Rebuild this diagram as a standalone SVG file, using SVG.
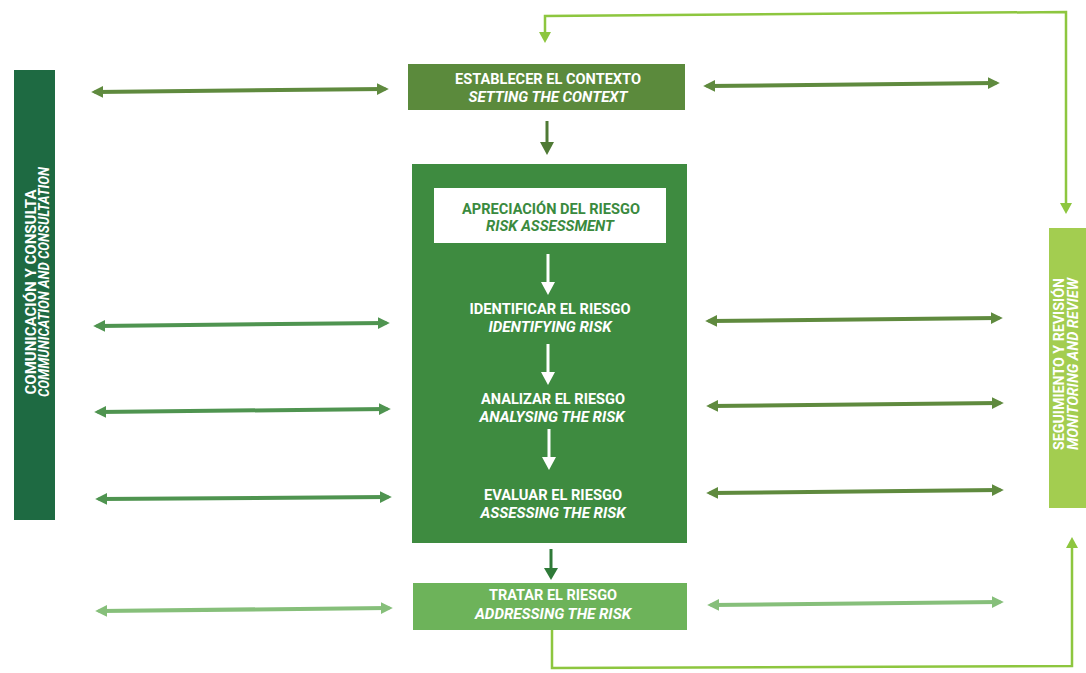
<svg xmlns="http://www.w3.org/2000/svg" width="1086" height="673" viewBox="0 0 1086 673">
<defs>
<marker id="hOlive" viewBox="0 0 10 10" refX="6" refY="5" markerWidth="3" markerHeight="3" orient="auto-start-reverse"><path d="M0,0 L10,5 L0,10 Z" fill="#5f8a3e"/></marker>
<marker id="hGreen" viewBox="0 0 10 10" refX="6" refY="5" markerWidth="3" markerHeight="3" orient="auto-start-reverse"><path d="M0,0 L10,5 L0,10 Z" fill="#4f9450"/></marker>
<marker id="hLight" viewBox="0 0 10 10" refX="6" refY="5" markerWidth="3" markerHeight="3" orient="auto-start-reverse"><path d="M0,0 L10,5 L0,10 Z" fill="#86bf7a"/></marker>
</defs>
<style>
.t{font-family:"Roboto","Liberation Sans",sans-serif;font-weight:bold;font-size:14px;fill:#ffffff;text-anchor:middle;}
.i{font-style:italic;}
.g{fill:#3a8a3e;}
.dbl{fill:none;stroke-width:4;stroke-linecap:round;}
.olive{stroke:#5f8a3e;}
.green{stroke:#4f9450;}
.light{stroke:#86bf7a;}
.lime{fill:none;stroke:#8dc63f;stroke-width:2.5;}
.down{fill:none;stroke-width:3;}
</style>
<rect width="1086" height="673" fill="#ffffff"/>

<g id="comunicacion">
<rect x="14" y="70" width="41" height="450" fill="#1e6a42"/>
<text class="t" font-size="11" transform="translate(35.5,292) rotate(-90)" textLength="205" lengthAdjust="spacingAndGlyphs">COMUNICACIÓN Y CONSULTA</text>
<text class="t i" font-size="11" transform="translate(48.5,282) rotate(-90)" textLength="230" lengthAdjust="spacingAndGlyphs">COMMUNICATION AND CONSULTATION</text>
</g>

<g id="seguimiento">
<rect x="1049" y="228" width="37" height="280" fill="#a3cd50"/>
<text class="t" font-size="11" transform="translate(1064,364) rotate(-90)" textLength="172" lengthAdjust="spacingAndGlyphs">SEGUIMIENTO Y REVISIÓN</text>
<text class="t i" font-size="11" transform="translate(1078,364) rotate(-90)" textLength="172" lengthAdjust="spacingAndGlyphs">MONITORING AND REVIEW</text>
</g>

<g id="contexto">
<rect x="408" y="64" width="277" height="46" fill="#5b8a3c"/>
<text class="t" x="548" y="84" textLength="186" lengthAdjust="spacingAndGlyphs">ESTABLECER EL CONTEXTO</text>
<text class="t i" x="548" y="102" textLength="159" lengthAdjust="spacingAndGlyphs">SETTING THE CONTEXT</text>
</g>

<g id="apreciacion">
<rect x="412" y="164" width="275" height="379" fill="#3e8b40"/>
<rect x="434" y="188" width="232" height="55" fill="#ffffff"/>
<text class="t g" x="551" y="214" textLength="178" lengthAdjust="spacingAndGlyphs">APRECIACIÓN DEL RIESGO</text>
<text class="t g i" x="550" y="231" textLength="128" lengthAdjust="spacingAndGlyphs">RISK ASSESSMENT</text>
</g>

<g id="identificar">
<text class="t" x="550" y="314" textLength="161" lengthAdjust="spacingAndGlyphs">IDENTIFICAR EL RIESGO</text>
<text class="t i" x="550" y="332" textLength="123" lengthAdjust="spacingAndGlyphs">IDENTIFYING RISK</text>
</g>

<g id="analizar">
<text class="t" x="553" y="404" textLength="144" lengthAdjust="spacingAndGlyphs">ANALIZAR EL RIESGO</text>
<text class="t i" x="552" y="422" textLength="145" lengthAdjust="spacingAndGlyphs">ANALYSING THE RISK</text>
</g>

<g id="evaluar">
<text class="t" x="553" y="500" textLength="138" lengthAdjust="spacingAndGlyphs">EVALUAR EL RIESGO</text>
<text class="t i" x="553" y="518" textLength="145" lengthAdjust="spacingAndGlyphs">ASSESSING THE RISK</text>
</g>

<g id="tratar">
<rect x="413" y="583" width="274" height="47" fill="#6db35a"/>
<text class="t" x="553" y="600" textLength="128" lengthAdjust="spacingAndGlyphs">TRATAR EL RIESGO</text>
<text class="t i" x="553" y="619" textLength="156" lengthAdjust="spacingAndGlyphs">ADDRESSING THE RISK</text>
</g>

<g id="connectors">
<line class="down" x1="547" y1="121" x2="547" y2="144" stroke="#4f7a35"/>
<path d="M540,142 L554,142 L547,155 Z" fill="#4f7a35"/>
<line class="down" x1="548" y1="254" x2="548" y2="284" stroke="#ffffff"/>
<path d="M541,282 L555,282 L548,295 Z" fill="#ffffff"/>
<line class="down" x1="548" y1="344" x2="548" y2="374" stroke="#ffffff"/>
<path d="M541,372 L555,372 L548,385 Z" fill="#ffffff"/>
<line class="down" x1="549" y1="429" x2="549" y2="459" stroke="#ffffff"/>
<path d="M542,457 L556,457 L549,470 Z" fill="#ffffff"/>
<line class="down" x1="551" y1="549" x2="551" y2="570" stroke="#2f7a38"/>
<path d="M544,568 L558,568 L551,580 Z" fill="#2f7a38"/>

<line class="dbl olive" x1="96" y1="92" x2="384" y2="89" marker-start="url(#hOlive)" marker-end="url(#hOlive)"/>
<line class="dbl green" x1="98" y1="326" x2="385" y2="323" marker-start="url(#hGreen)" marker-end="url(#hGreen)"/>
<line class="dbl green" x1="99" y1="412" x2="386" y2="409" marker-start="url(#hGreen)" marker-end="url(#hGreen)"/>
<line class="dbl green" x1="100" y1="499" x2="387" y2="497" marker-start="url(#hGreen)" marker-end="url(#hGreen)"/>
<line class="dbl light" x1="100" y1="611" x2="388" y2="608" marker-start="url(#hLight)" marker-end="url(#hLight)"/>

<line class="dbl olive" x1="708" y1="86" x2="995" y2="83" marker-start="url(#hOlive)" marker-end="url(#hOlive)"/>
<line class="dbl olive" x1="710" y1="321" x2="998" y2="318" marker-start="url(#hOlive)" marker-end="url(#hOlive)"/>
<line class="dbl olive" x1="711" y1="406" x2="999" y2="403" marker-start="url(#hOlive)" marker-end="url(#hOlive)"/>
<line class="dbl olive" x1="711" y1="493" x2="999" y2="490" marker-start="url(#hOlive)" marker-end="url(#hOlive)"/>
<line class="dbl light" x1="712" y1="605" x2="999" y2="602" marker-start="url(#hLight)" marker-end="url(#hLight)"/>

<path class="lime" d="M552,630 L552,668 L1072,666 L1072,546"/>
<path d="M1066,548 L1078,548 L1072,537 Z" fill="#8dc63f"/>
<path class="lime" d="M1066,206 L1066,12 L545,16 L545,34"/>
<path d="M539,32 L551,32 L545,43 Z" fill="#8dc63f"/>
<path d="M1060,203 L1072,203 L1066,214 Z" fill="#8dc63f"/>
</g>
</svg>
